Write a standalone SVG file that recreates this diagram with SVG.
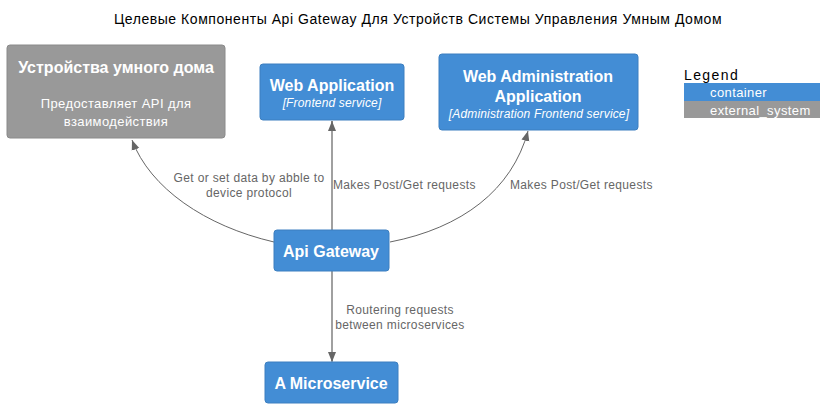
<svg xmlns="http://www.w3.org/2000/svg" width="836" height="408" viewBox="0 0 836 408">
<defs>
<marker id="arr" viewBox="0 0 10 10" refX="10" refY="5" markerWidth="10" markerHeight="10" markerUnits="userSpaceOnUse" orient="auto">
<path d="M0,1 L10,5 L0,9 z" fill="#666666"/>
</marker>
</defs>
<style>
text{font-family:"Liberation Sans",Arial,sans-serif}
.title{font-size:14px;fill:#000;letter-spacing:0.55px}
.cont{fill:#438DD5;stroke:#3C7FC0;stroke-width:1}
.ext{fill:#999999;stroke:#8A8A8A;stroke-width:1}
.nt{font-size:16px;font-weight:bold;fill:#fff;text-anchor:middle}
.ds{font-size:13px;fill:#fff;text-anchor:middle;letter-spacing:0.4px}
.tech{font-size:12px;font-style:italic;fill:#fff;text-anchor:middle;letter-spacing:0.15px}
.lbl{font-size:12px;fill:#666666;letter-spacing:0.35px}
.curve{fill:none;stroke:#666666;stroke-width:1}
.straight{fill:none;stroke:#A0A0A0;stroke-width:2}
.lg{font-size:13px;fill:#fff;letter-spacing:0.4px}
</style>
<rect width="836" height="408" fill="#ffffff"/>
<text class="title" x="418" y="24" text-anchor="middle">Целевые Компоненты Api Gateway Для Устройств Системы Управления Умным Домом</text>

<g id="connectors">
<path class="curve" d="M274,242 C205,226 150,188 132,140" marker-end="url(#arr)"/>
<path class="straight" d="M332,230 L332,121"/>
<path class="curve" d="M332,130 L332,121" marker-end="url(#arr)"/>
<path class="curve" d="M390,242 C462,228 512,190 528,131" marker-end="url(#arr)"/>
<path class="straight" d="M332,271 L332,361"/>
<path class="curve" d="M332,352 L332,362" marker-end="url(#arr)"/>
<text class="lbl" x="249" y="182" text-anchor="middle">Get or set data by abble to</text>
<text class="lbl" x="249" y="197" text-anchor="middle">device protocol</text>
<text class="lbl" x="333" y="189">Makes Post/Get requests</text>
<text class="lbl" x="510" y="189">Makes Post/Get requests</text>
<text class="lbl" x="400" y="314" text-anchor="middle">Routering requests</text>
<text class="lbl" x="400" y="329" text-anchor="middle">between microservices</text>
</g>

<g id="devices">
<rect class="ext" x="7" y="45" width="218" height="93" rx="3"/>
<text class="nt" x="116" y="73">Устройства умного дома</text>
<text class="ds" x="116" y="108">Предоставляет API для</text>
<text class="ds" x="116" y="126">взаимодействия</text>
</g>

<g id="webapp">
<rect class="cont" x="260" y="64" width="144" height="56" rx="3"/>
<text class="nt" x="332" y="91">Web Application</text>
<text class="tech" x="332" y="107">[Frontend service]</text>
</g>

<g id="webadmin">
<rect class="cont" x="439" y="54" width="199" height="76" rx="3"/>
<text class="nt" x="538" y="82">Web Administration</text>
<text class="nt" x="538" y="102">Application</text>
<text class="tech" x="539" y="118">[Administration Frontend service]</text>
</g>

<g id="apigateway">
<rect class="cont" x="274" y="230" width="115" height="41" rx="3"/>
<text class="nt" x="331" y="257">Api Gateway</text>
</g>

<g id="microservice">
<rect class="cont" x="265" y="362" width="133" height="41" rx="3"/>
<text class="nt" x="331" y="389">A Microservice</text>
</g>

<g id="legend">
<text x="684" y="80" style="font-size:14px;fill:#000;letter-spacing:1.4px">Legend</text>
<rect x="684" y="83" width="136" height="18" fill="#438DD5"/>
<rect x="684" y="101" width="136" height="17" fill="#999999"/>
<text class="lg" x="710" y="97">container</text>
<text class="lg" x="710" y="115">external_system</text>
</g>
</svg>
